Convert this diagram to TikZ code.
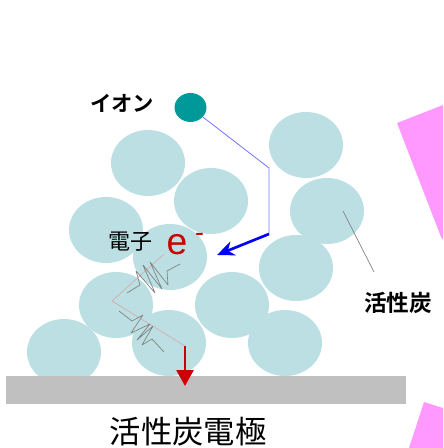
\documentclass[tikz,border=0pt]{standalone}
\usepackage{fontspec}
\setmainfont{Liberation Sans}
\newfontfamily\jpfont{Noto Sans CJK JP}[BoldFont={Noto Sans CJK JP Bold}]
\usetikzlibrary{arrows.meta,shapes.geometric}
\definecolor{grain}{HTML}{BBDFE2}
\definecolor{iondot}{HTML}{009999}
\definecolor{wedge}{HTML}{FF99FF}
\definecolor{collector}{HTML}{C0C0C0}
\definecolor{eflow}{HTML}{D4ACAC}
\definecolor{ered}{HTML}{CC0000}

\begin{document}
\begin{tikzpicture}[
  x=0.75pt, y=-0.75pt,
  every node/.style={inner sep=0pt},
  particle/.style={ellipse, fill=grain, minimum width=55.5pt, minimum height=49.5pt},
  jplabel/.style={font=\jpfont\fontsize{#1}{#1}\selectfont},
  jplabel/.default=16pt,
  jpbold/.style={font=\jpfont\bfseries\fontsize{#1}{#1}\selectfont},
  zigzag/.style={draw=gray, line width=0.5pt, line join=bevel},
]
  \path[use as bounding box] (0,0) rectangle (443,448);

  % carbon grains
  \foreach \n/\x/\y in {a/148/163, b/106/230, c/116/305, d/64/352,
                        e/170/257, f/169/343, g/232/305, h/296/268,
                        i/285/343, k/327/211, l/306/145, m/211/201}
    \node[particle] (p\n) at (\x,\y) {};

  \fill[wedge] (397,123) -- (443,105) -- (443,240) -- (441,237) -- cycle;
  \fill[wedge] (424,402) -- (443,408) -- (443,448) -- (409,448) -- cycle;

  \node[fill=collector, minimum width=300pt, minimum height=21pt] (plate) at (206,390) {};

  \node[ellipse, fill=iondot, minimum width=24pt, minimum height=21.75pt] (ion) at (190.5,107.5) {};
  \node[jpbold=16pt] (iontxt) at (122,103) {イオン};
  \node[jplabel=16.5pt] (eltxt) at (130,242) {電子};
  \node[text=ered, font=\fontsize{28pt}{28pt}\selectfont] (elec) at (177,244.5) {e};
  \node[text=ered, font=\fontsize{20pt}{20pt}\selectfont, anchor=base] (minus) at (199.5,241.5) {-};
  \node[jpbold=17pt] (actxt) at (398,303) {活性炭};
  \node[jplabel=23.5pt] (platetxt) at (188,432) {活性炭電極};

  % ion path and electron arriving
  \coordinate (b1) at (269,168);
  \coordinate (b2) at (269,234);
  \coordinate (etip) at (217,255);
  \draw[blue!55, line width=0.6pt] (ion) -- (b1) -- (b2);
  \draw[blue, line width=2pt, -{Stealth[length=13pt,width=11pt]}] (b2) -- (etip);

  % electron through the grains
  \coordinate (s0) at (164,254);
  \coordinate (s1) at (112,301);
  \coordinate (s2) at (185,346);
  \coordinate (s3) at (185,386);
  \draw[eflow, line width=0.5pt] (s0) -- (s1) -- (s2);
  \draw[ered, line width=2pt, -{Triangle[length=12pt,width=12.75pt]}] (s2) -- (s3);
  \draw[zigzag] (127,293) -- (140,285) -- (136,271) -- (155,293) -- (143,265)
    -- (162,289) -- (150,262) -- (168,285) -- (167,271) -- (180,264);
  \draw[zigzag] (119,311) -- (132,321) -- (143,315) -- (131,333) -- (150,324)
    -- (137,340) -- (153,326) -- (142,345) -- (152,339) -- (164,352);

  \coordinate (lead) at (374,272);
  \draw[gray, line width=0.5pt] (343,211) -- (lead);
\end{tikzpicture}
\end{document}
